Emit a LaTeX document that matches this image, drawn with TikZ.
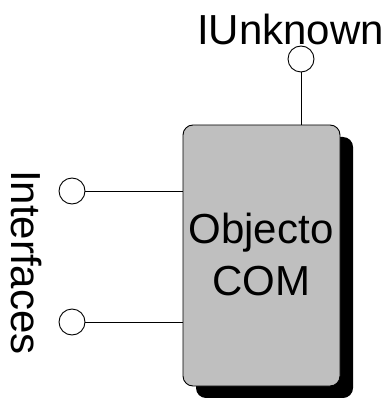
\documentclass[tikz,border=0pt]{standalone}
\usepackage{fontspec}
\setmainfont{Liberation Sans}
\begin{document}
\begin{tikzpicture}[x=1pt,y=-1pt,
  label text/.style={font=\fontsize{42}{52}\selectfont, inner sep=0pt},
  plug/.style={circle, draw, line width=0.9pt, fill=white, minimum size=26pt, inner sep=0pt},
  wire/.style={line width=0.9pt},
  objbox/.style={draw, line width=0.9pt, fill=black!25, rounded corners=10pt},
  objshadow/.style={fill=black, rounded corners=10pt}]
  \useasboundingbox (0,0) rectangle (388,398);

  % object body with its drop shadow
  \fill[objshadow] (196,137) rectangle (353,398);
  \draw[objbox] (183,125) rectangle (340,386);
  \node[label text, align=center, anchor=base] (obj) at (261,295) {Objecto\\COM};

  % IUnknown interface on top
  \node[plug] (unk) at (301,59) {};
  \coordinate (unkfoot) at (301,125);
  \draw[wire] (unk) -- (unkfoot);
  \node[label text, anchor=base west] (unklabel) at (197,45) {IUnknown};

  % further interfaces on the left
  \node[plug] (if1) at (72,191) {};
  \node[plug] (if2) at (72,322) {};
  \coordinate (if1foot) at (183,191);
  \coordinate (if2foot) at (183,322);
  \draw[wire] (if1) -- (if1foot);
  \draw[wire] (if2) -- (if2foot);
  \node[label text, rotate=-90, anchor=base west] (iflabel) at (12,170) {Interfaces};
\end{tikzpicture}
\end{document}
